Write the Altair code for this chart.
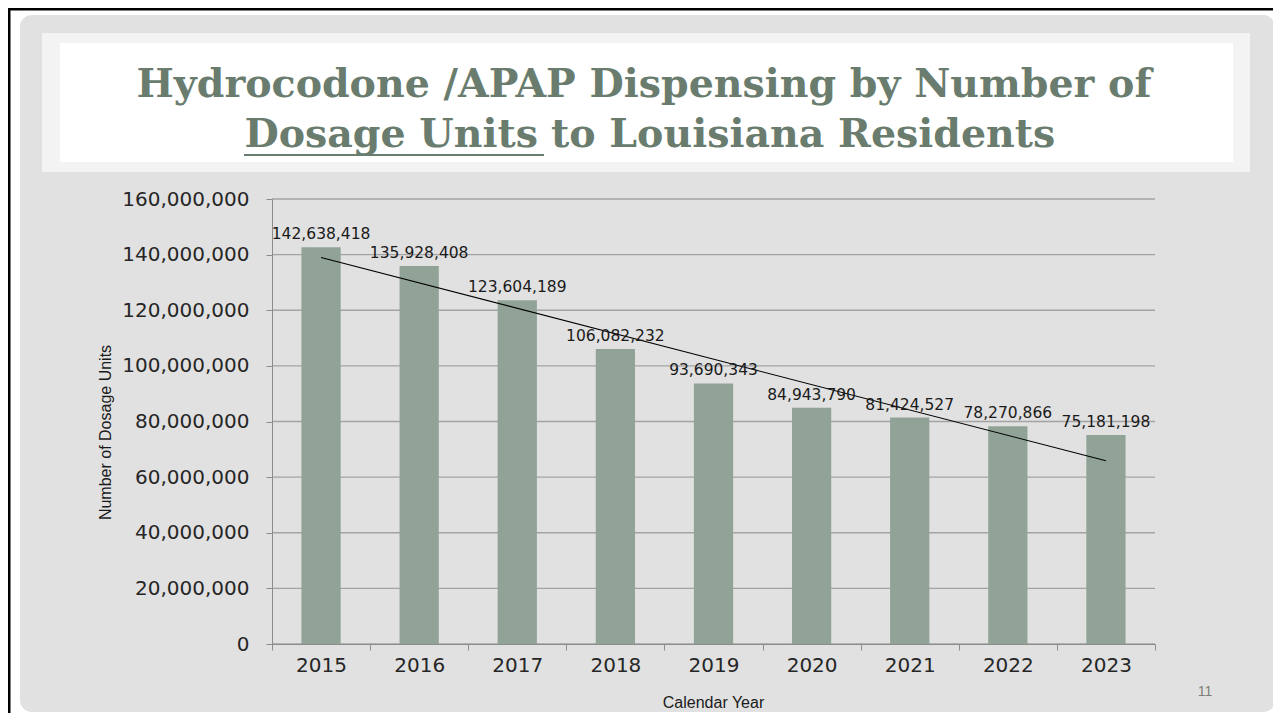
import altair as alt
import pandas as pd

years = [2015, 2016, 2017, 2018, 2019, 2020, 2021, 2022, 2023]
units = [142638418, 135928408, 123604189, 106082232, 93690343,
         84943790, 81424527, 78270866, 75181198]
y_ticks = [0, 20000000, 40000000, 60000000, 80000000,
           100000000, 120000000, 140000000, 160000000]

title_line1 = "Hydrocodone /APAP Dispensing by Number of"
title_line2a = "Dosage Units"
title_line2b = "to Louisiana Residents"
page_number = "11"

df = pd.DataFrame({"year": years, "units": units})
ticks_df = pd.DataFrame({"v": y_ticks})
one = alt.Data(values=[{"k": 1}])

W, H = 883, 445
AX_FONT = "DejaVu Sans"

xs = alt.Scale(paddingInner=0, paddingOuter=0)
ys = alt.Scale(domain=[0, 160000000])

# decoration (slide look)
slide = alt.Chart(one).mark_rect(color="#e1e1e1", cornerRadius=12).encode(
    x=alt.value(-252), x2=alt.value(1003), y=alt.value(-184), y2=alt.value(513))
band = alt.Chart(one).mark_rect(color="#f3f3f3").encode(
    x=alt.value(-230), x2=alt.value(978), y=alt.value(-166), y2=alt.value(-27))
white = alt.Chart(one).mark_rect(color="#ffffff").encode(
    x=alt.value(-212), x2=alt.value(961), y=alt.value(-156), y2=alt.value(-37))
top_line = alt.Chart(one).mark_rule(color="#000000", strokeWidth=3).encode(
    x=alt.value(-264), x2=alt.value(1005), y=alt.value(-190))
left_line = alt.Chart(one).mark_rule(color="#000000", strokeWidth=3).encode(
    x=alt.value(-263), y=alt.value(-191), y2=alt.value(520))

TITLE_COLOR = "#697c6e"
TFS = 39.5
t1 = alt.Chart(one).mark_text(
    text=title_line1, font="DejaVu Serif", fontWeight="bold", fontSize=TFS,
    color=TITLE_COLOR, align="center", baseline="alphabetic").encode(
    x=alt.value(372), y=alt.value(-102))
t2a = alt.Chart(one).mark_text(
    text=title_line2a, font="DejaVu Serif", fontWeight="bold", fontSize=TFS,
    color=TITLE_COLOR, align="right", baseline="alphabetic").encode(
    x=alt.value(266), y=alt.value(-52))
t2b = alt.Chart(one).mark_text(
    text=title_line2b, font="DejaVu Serif", fontWeight="bold", fontSize=TFS,
    color=TITLE_COLOR, align="left", baseline="alphabetic").encode(
    x=alt.value(279), y=alt.value(-52))
underline = alt.Chart(one).mark_rule(color=TITLE_COLOR, strokeWidth=2).encode(
    x=alt.value(-28), x2=alt.value(272), y=alt.value(-44))
pnum = alt.Chart(one).mark_text(
    text=page_number, font="Liberation Sans", fontSize=14, color="#7f7f78",
    align="center", baseline="middle").encode(x=alt.value(933), y=alt.value(493))

grid = alt.Chart(ticks_df).mark_rule(color="#a3a3a3", strokeWidth=1.3).encode(
    y=alt.Y("v:Q", scale=ys), x=alt.value(0), x2=alt.value(W))

bars = alt.Chart(df).mark_bar(color="#91a397", width=alt.RelativeBandSize(0.4)).encode(
    x=alt.X("year:O", scale=xs, title="Calendar Year",
            axis=alt.Axis(labelAngle=0, labelFont=AX_FONT, labelFontSize=20,
                          labelColor="#262626", labelPadding=5, tickBand="extent",
                          tickSize=6, tickColor="#8c8c8c", domainColor="#8c8c8c",
                          titleFont="Liberation Sans", titleFontSize=16,
                          titleFontWeight="normal", titleColor="#1a1a1a",
                          titleX=441, titleY=58, titleBaseline="middle",
                          grid=False, zindex=1)),
    y=alt.Y("units:Q", scale=ys, title="Number of Dosage Units",
            axis=alt.Axis(values=y_ticks, format=",d", labelFont=AX_FONT,
                          labelFontSize=20, labelColor="#262626", labelPadding=17,
                          tickSize=6, tickColor="#8c8c8c", domainColor="#8c8c8c",
                          titleFont="Liberation Sans", titleFontSize=16,
                          titleFontWeight="normal", titleColor="#1a1a1a",
                          titleX=-167, titleY=233, titleBaseline="middle",
                          grid=False, zindex=1)),
)

labels = alt.Chart(df).mark_text(
    font=AX_FONT, fontSize=15.5, color="#1a1a1a", baseline="alphabetic", dy=-8).encode(
    x=alt.X("year:O", scale=xs),
    y=alt.Y("units:Q", scale=ys),
    text=alt.Text("units:Q", format=",d"),
)

trend = alt.Chart(df).transform_regression(
    "year", "units", method="linear").mark_line(color="#000000", strokeWidth=1.1).encode(
    x=alt.X("year:O", scale=xs),
    y=alt.Y("units:Q", scale=ys),
)

chart = alt.layer(
    slide, band, white, top_line, left_line, t1, t2a, t2b, underline, pnum,
    grid, bars, trend, labels
).properties(
    width=W, height=H,
    autosize=alt.AutoSizeParams(type="none"),
    padding={"left": 264, "top": 191, "right": 118, "bottom": 69},
    background="#ffffff",
).configure_view(stroke=None)

chart.save("out.html", embed_options={"renderer": "svg", "actions": False})
